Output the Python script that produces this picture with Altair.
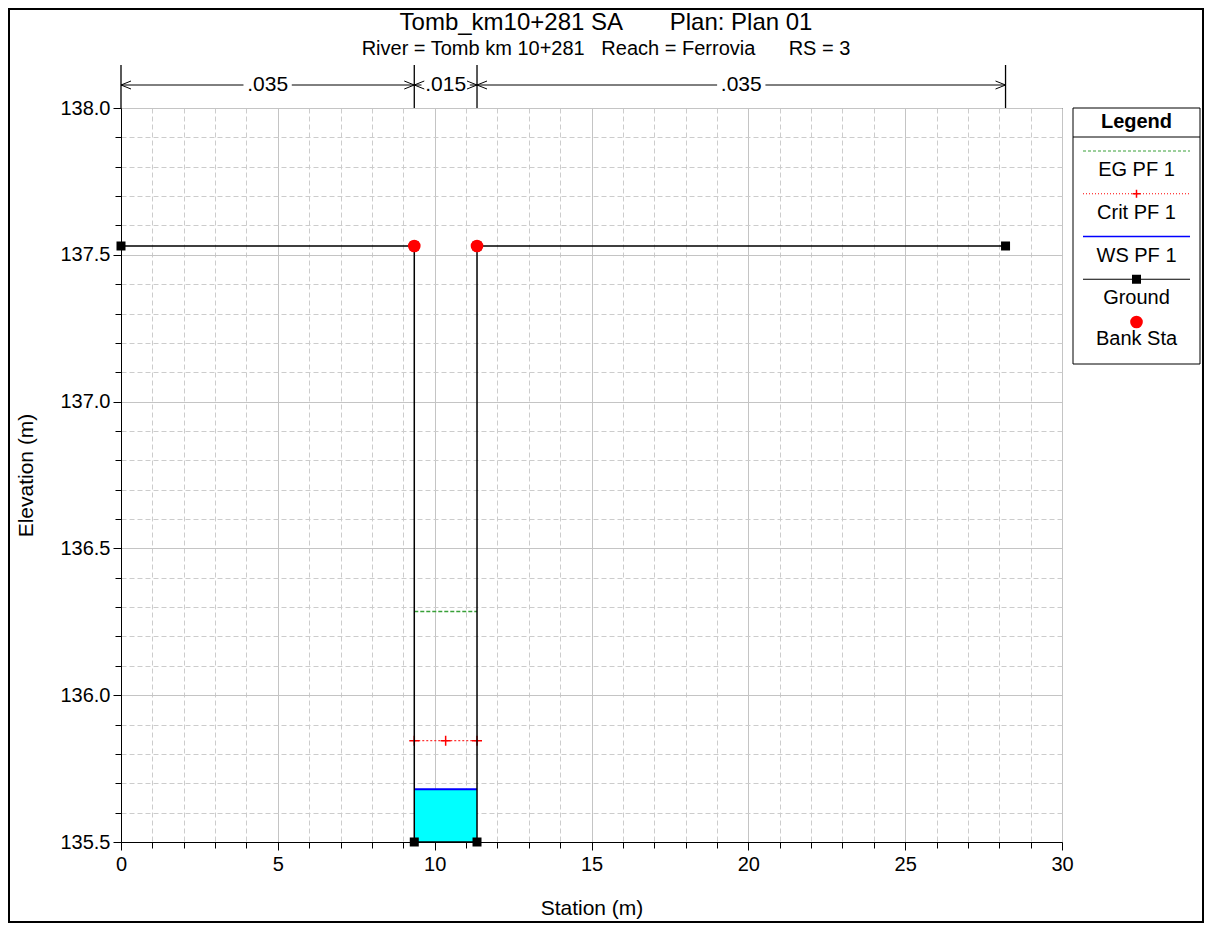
import altair as alt
import pandas as pd

# ---------------- data ----------------
ground_sta = [0.0, 9.35, 9.35, 11.35, 11.35, 28.2]
ground_elev = [137.53, 137.53, 135.5, 135.5, 137.53, 137.53]
bank_sta = [9.35, 11.35]
bank_elev = [137.53, 137.53]
channel_left = 9.35
channel_right = 11.35
ws_elev = 135.68
crit_elev = 135.845
eg_elev = 136.285
crit_marker_sta = [9.35, 10.35, 11.35]
n_bounds = [0.0, 9.35, 11.35, 28.2]
n_values = [".035", ".015", ".035"]
x_ticks = list(range(0, 31))
y_ticks = [round(135.5 + 0.1 * i, 1) for i in range(26)]

title_text = "Tomb_km10+281 SA" + "\u00a0" * 7 + "Plan: Plan 01"
subtitle_text = ("River = Tomb km 10+281" + "\u00a0" * 3 + "Reach = Ferrovia"
                 + "\u00a0" * 6 + "RS = 3")
legend_labels = ["EG PF 1", "Crit PF 1", "WS PF 1", "Ground", "Bank Sta"]

FONT = "Liberation Sans"
W, H = 941, 734
PAD_L, PAD_T = 113, 100
CANVAS_W, CANVAS_H = 1196, 915

xs = alt.Scale(domain=[0, 30], nice=False, zero=False)
ys = alt.Scale(domain=[135.5, 138.0], nice=False, zero=False)

x_major = "datum.value % 5 === 0"
y_major = "abs(datum.value * 2 - round(datum.value * 2)) < 1e-6"

x_axis = alt.Axis(
    values=x_ticks,
    labelExpr=f"{x_major} ? format(datum.value, 'd') : ''",
    title="Station (m)",
    grid=True,
    gridColor={"condition": {"test": x_major, "value": "#c4c4c4"}, "value": "#cccccc"},
    gridDash={"condition": {"test": x_major, "value": []}, "value": [5, 3]},
    tickSize={"condition": {"test": x_major, "value": 8}, "value": 6},
    labelOverlap=False, labelFlush=False, labelPadding=4,
    titleY=66, titleBaseline="middle",
)
y_axis = alt.Axis(
    values=y_ticks,
    labelExpr=f"{y_major} ? format(datum.value, '.1f') : ''",
    title="Elevation (m)",
    grid=True,
    gridColor={"condition": {"test": y_major, "value": "#c4c4c4"}, "value": "#cccccc"},
    gridDash={"condition": {"test": y_major, "value": []}, "value": [5, 3]},
    tickSize={"condition": {"test": y_major, "value": 8}, "value": 6},
    labelOverlap=False, labelFlush=False, labelPadding=3,
    titleX=-95, titleY=H / 2, titleBaseline="middle", titleAngle=-90,
)


def X(field):
    return alt.X(field, scale=xs, axis=x_axis)


def Y(field):
    return alt.Y(field, scale=ys, axis=y_axis)


one = pd.DataFrame({"k": [0]})

# ---------------- data layers ----------------
ws_df = pd.DataFrame({"x": [channel_left], "x2": [channel_right],
                      "y": [min(ground_elev)], "y2": [ws_elev]})
ws_fill = alt.Chart(ws_df).mark_rect(color="#00ffff").encode(
    x=X("x:Q"), x2="x2:Q", y=Y("y:Q"), y2="y2:Q")
ws_line = alt.Chart(ws_df).mark_rule(color="#0000ff", strokeWidth=2).encode(
    x=X("x:Q"), x2="x2:Q", y=Y("y2:Q"))

crit_df = pd.DataFrame({"x": [channel_left], "x2": [channel_right], "y": [crit_elev]})
crit_line = alt.Chart(crit_df).mark_rule(color="#ff0000", strokeWidth=1, strokeDash=[2, 2]).encode(
    x=X("x:Q"), x2="x2:Q", y=Y("y:Q"))
crit_pts_df = pd.DataFrame({"x": crit_marker_sta, "y": [crit_elev] * len(crit_marker_sta)})
PLUS = "M-1,0L1,0M0,-1L0,1"
crit_pts = alt.Chart(crit_pts_df).mark_point(shape=PLUS, color="#ff0000", filled=False,
                                               strokeWidth=1.5, size=100, opacity=1).encode(
    x=X("x:Q"), y=Y("y:Q"))

EG_COLOR = "#38a038"
eg_df = pd.DataFrame({"x": [channel_left], "x2": [channel_right], "y": [eg_elev]})
eg_line = alt.Chart(eg_df).mark_rule(color=EG_COLOR, strokeWidth=1.5, strokeDash=[4, 2]).encode(
    x=X("x:Q"), x2="x2:Q", y=Y("y:Q"))

ground_df = pd.DataFrame({"x": ground_sta, "y": ground_elev, "i": list(range(len(ground_sta)))})
ground_line = alt.Chart(ground_df).mark_line(color="black", strokeWidth=1.5).encode(
    x=X("x:Q"), y=Y("y:Q"), order="i:Q")
ground_pts = alt.Chart(ground_df).mark_point(shape="square", filled=True, color="black",
                                              size=81, opacity=1).encode(
    x=X("x:Q"), y=Y("y:Q"))

bank_df = pd.DataFrame({"x": bank_sta, "y": bank_elev})
bank_pts = alt.Chart(bank_df).mark_point(shape="circle", filled=True, color="#ff0000",
                                          size=160, opacity=1).encode(
    x=X("x:Q"), y=Y("y:Q"))

# ---------------- Manning's n annotation ----------------
N_TOP, N_Y = -43, -23
GAP = 0.77
bounds_df = pd.DataFrame({"x": n_bounds})
n_vlines = alt.Chart(bounds_df).mark_rule(color="black", strokeWidth=1.3).encode(
    x=X("x:Q"), y=alt.value(N_TOP), y2=alt.value(0))

segs = []
zones = []
for a, b, v in zip(n_bounds[:-1], n_bounds[1:], n_values):
    mid = (a + b) / 2
    zones.append({"a": a, "b": b, "mid": mid, "label": v})
    if mid - GAP > a:
        segs.append({"x": a, "x2": mid - GAP})
        segs.append({"x": mid + GAP, "x2": b})
segs_df = pd.DataFrame(segs)
zones_df = pd.DataFrame(zones)
n_hlines = alt.Chart(segs_df).mark_rule(color="black", strokeWidth=1).encode(
    x=X("x:Q"), x2="x2:Q", y=alt.value(N_Y))
LEFT_CHEV = "M1,-0.4L0,0L1,0.4"
RIGHT_CHEV = "M-1,-0.4L0,0L-1,0.4"
chev_l = alt.Chart(zones_df).mark_point(shape=LEFT_CHEV, filled=False, color="black",
                                         strokeWidth=1, size=400, opacity=1).encode(
    x=X("a:Q"), y=alt.value(N_Y))
chev_r = alt.Chart(zones_df).mark_point(shape=RIGHT_CHEV, filled=False, color="black",
                                         strokeWidth=1, size=400, opacity=1).encode(
    x=X("b:Q"), y=alt.value(N_Y))
n_text = alt.Chart(zones_df).mark_text(fontSize=21, font=FONT, color="black",
                                       baseline="middle").encode(
    x=X("mid:Q"), y=alt.value(N_Y), text="label:N")

# ---------------- titles ----------------
t1 = alt.Chart(one).mark_text(text=title_text, fontSize=24, font=FONT, color="black",
                              baseline="alphabetic").encode(x=alt.value(485), y=alt.value(-78))
t2 = alt.Chart(one).mark_text(text=subtitle_text, fontSize=20, font=FONT, color="black",
                              baseline="middle").encode(x=alt.value(485), y=alt.value(-59))

# ---------------- legend (drawn as a HEC-RAS style box) ----------------
LX0, LX1, LY0, LY1 = 952, 1079, 0, 256
LCX = (LX0 + LX1) / 2
SX0, SX1 = 962, 1069
leg = []
leg.append(alt.Chart(one).mark_rect(fill="white", stroke="black", strokeWidth=1).encode(
    x=alt.value(LX0), x2=alt.value(LX1), y=alt.value(LY0), y2=alt.value(LY1)))
leg.append(alt.Chart(one).mark_rule(color="black", strokeWidth=1).encode(
    x=alt.value(LX0), x2=alt.value(LX1), y=alt.value(29)))
leg.append(alt.Chart(one).mark_text(text="Legend", fontSize=20, fontWeight="bold", font=FONT,
                                    color="black", baseline="middle").encode(
    x=alt.value(LCX), y=alt.value(14)))
STEP = 42.75
line_y = [43 + STEP * i for i in range(5)]
styles = [
    dict(color=EG_COLOR, strokeWidth=1, strokeDash=[3, 2]),
    dict(color="#ff0000", strokeWidth=1, strokeDash=[1, 2]),
    dict(color="#0000ff", strokeWidth=1.5),
    dict(color="black", strokeWidth=1.2),
]
for i, st in enumerate(styles):
    leg.append(alt.Chart(one).mark_rule(**st).encode(
        x=alt.value(SX0), x2=alt.value(SX1), y=alt.value(line_y[i])))
leg.append(alt.Chart(one).mark_point(shape=PLUS, color="#ff0000", filled=False, strokeWidth=1.5,
                                     size=64, opacity=1).encode(
    x=alt.value(LCX), y=alt.value(line_y[1])))
leg.append(alt.Chart(one).mark_point(shape="square", filled=True, color="black", size=81,
                                     opacity=1).encode(
    x=alt.value(LCX), y=alt.value(line_y[3])))
leg.append(alt.Chart(one).mark_point(shape="circle", filled=True, color="#ff0000", size=160,
                                     opacity=1).encode(
    x=alt.value(LCX), y=alt.value(line_y[4])))
for i, lab in enumerate(legend_labels):
    off = 19 if i < 4 else 17
    leg.append(alt.Chart(one).mark_text(text=lab, fontSize=20, font=FONT, color="black",
                                        baseline="middle").encode(
        x=alt.value(LCX), y=alt.value(line_y[i] + off)))

# ---------------- outer frame ----------------
frame = alt.Chart(one).mark_rect(fillOpacity=0, stroke="black", strokeWidth=2).encode(
    x=alt.value(-PAD_L + 1), x2=alt.value(CANVAS_W - PAD_L - 1),
    y=alt.value(-PAD_T + 1), y2=alt.value(CANVAS_H - PAD_T - 1))

chart = alt.layer(
    ws_fill, ws_line, eg_line, crit_line, crit_pts, ground_line, ground_pts, bank_pts,
    n_vlines, n_hlines, chev_l, chev_r, n_text, t1, t2, *leg, frame
).properties(
    width=W, height=H,
    autosize=alt.AutoSizeParams(type="none"),
    padding={"left": PAD_L, "top": PAD_T,
             "right": CANVAS_W - PAD_L - W, "bottom": CANVAS_H - PAD_T - H},
    background="white",
).configure_view(
    stroke="black", strokeWidth=1
).configure_axis(
    labelFont=FONT, titleFont=FONT, labelFontSize=20, titleFontSize=21,
    titleFontWeight="normal", labelColor="black", titleColor="black",
    domainColor="black", tickColor="black", domainWidth=1, tickWidth=1,
)

chart.save("out.html", embed_options={"renderer": "svg", "actions": False})
